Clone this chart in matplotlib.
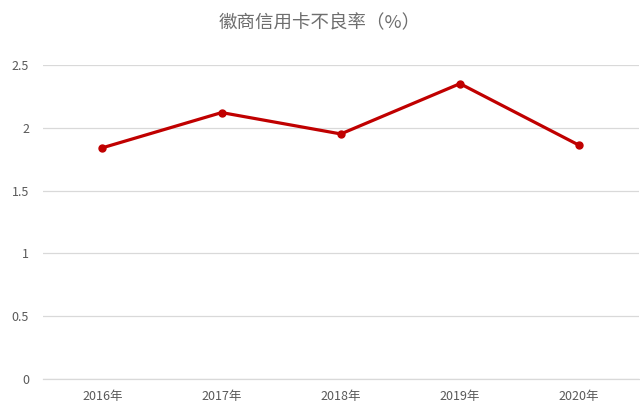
import matplotlib
matplotlib.use('Agg')
import matplotlib.pyplot as plt

plt.rcParams['font.family'] = ['Noto Sans CJK SC', 'DejaVu Sans']

# data
years = ['2016年', '2017年', '2018年', '2019年', '2020年']
npl_rate = [1.84, 2.12, 1.95, 2.35, 1.86]
yticks = [0, 0.5, 1, 1.5, 2, 2.5]
ytick_labels = ['0', '0.5', '1', '1.5', '2', '2.5']

fig = plt.figure(figsize=(6.4, 4.18), dpi=100)
ax = fig.add_axes([0.067, 0.093, 0.931, 0.752])

x = range(len(years))
ax.plot(x, npl_rate, color='#C00000', linewidth=2.3, marker='o', markersize=5,
        solid_capstyle='round', zorder=3)

ax.set_xlim(-0.5, len(years) - 0.5)
ax.set_ylim(0, 2.5)
ax.set_xticks(list(x))
ax.set_xticklabels(years)
ax.set_yticks(yticks)
ax.set_yticklabels(ytick_labels)

ax.grid(axis='y', color='#D9D9D9', linewidth=0.9)
ax.set_axisbelow(True)
for s in ['top', 'right', 'left']:
    ax.spines[s].set_visible(False)
ax.spines['bottom'].set_color('#D9D9D9')
ax.spines['bottom'].set_linewidth(0.9)
ax.tick_params(axis='both', length=0, colors='#595959', labelsize=9)
ax.tick_params(axis='y', pad=10)
ax.tick_params(axis='x', pad=8)

fig.text(0.5, 0.945, '徽商信用卡不良率（%）', ha='center', va='center',
         fontsize=13.3, color='#6E6E6E', fontweight='light')

fig.savefig('out.png', dpi=100)
